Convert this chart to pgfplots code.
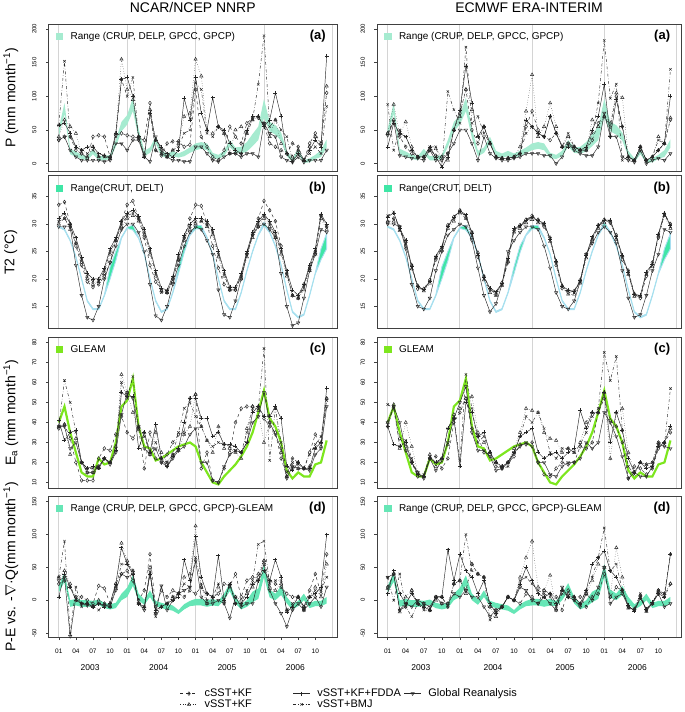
\documentclass[border=0pt]{standalone}
\usepackage{fontspec}
\setmainfont{Liberation Sans}
\usepackage{pgfplots}
\usepackage{pgfplotstable}
\pgfplotsset{compat=1.18}
\usepgfplotslibrary{fillbetween}

\definecolor{bandA}{HTML}{A6EBD0}
\definecolor{bandB}{HTML}{3FE6A6}
\definecolor{lineB}{HTML}{A8DFF0}
\definecolor{bandD}{HTML}{66E6B6}
\definecolor{gleam}{HTML}{7DE61E}
\definecolor{gridg}{HTML}{D4D4D4}

\tikzset{
  plab/.style={anchor=north east,font=\bfseries\fontsize{13}{13}\selectfont,inner sep=0pt,xshift=-11pt,yshift=-6pt},
  yr/.style={font=\fontsize{8.5}{8.5}\selectfont,yshift=-30pt},
}

\pgfplotsset{
  /pgfplots/table/ser/.style={x expr=\coordindex,y index=0,header=false,row sep=\\},
  /pgfplots/table/obs/.style={x expr=\coordindex,y index=0},
  sc/.style={black!85,line width=0.45pt,dashed,mark=diamond,mark size=1.9pt,mark options={solid}},
  sv/.style={black!85,line width=0.45pt,dotted,mark=triangle,mark size=1.9pt,mark options={solid}},
  sf/.style={black!85,line width=0.45pt,solid,mark=+,mark size=2pt},
  sb/.style={black!85,line width=0.45pt,dash dot,mark=x,mark size=1.7pt,mark options={solid}},
  sg/.style={black!85,line width=0.45pt,solid,mark=triangle,mark size=1.9pt,mark options={solid,rotate=180}},
  pan/.style={
    scale only axis, anchor=north west, clip mode=individual,
    xmin=-1.8, xmax=48.8,
    axis line style={black!75,line width=0.6pt},
    tick align=outside, major tick length=2.5pt,
    tick style={black!75,line width=0.5pt},
    ytick pos=left, xtick pos=bottom,
    xtick={0,12,24,36,48}, xticklabels={},
    xmajorgrids, grid style={gridg,line width=0.8pt},
    xtick style={draw=none},
    yticklabel style={rotate=90,anchor=south,font=\fontsize{6}{6}\selectfont},
    yticklabel shift=6pt,
    /pgf/number format/assume math mode=true,
    title style={font=\fontsize{14}{14}\selectfont,at={(0.5,1)},anchor=south,yshift=5pt,inner sep=0pt},
    ylabel style={at={(axis description cs:-0.131,0.5)},anchor=center,font=\fontsize{14}{14}\selectfont},
    legend style={at={(0,1)},anchor=north west,draw=none,fill=none,xshift=6pt,yshift=-5pt,
      font=\fontsize{10}{11}\selectfont,inner sep=1pt},
    legend image code/.code={\fill[#1] (0pt,-3.5pt) rectangle (7.5pt,3.5pt);\path (13pt,0pt);},
  },
  ra/.style={pan,height=148pt,ymin=-11.9,ymax=207.4,ytick={0,50,100,150,200}},
  rb/.style={pan,height=153pt,ymin=11,ymax=38.8,ytick={15,20,25,30,35}},
  rc/.style={pan,height=151pt,ymin=7.2,ymax=82.6,ytick={10,20,...,80}},
  rd/.style={pan,height=142pt,ymin=-57.1,ymax=158.7,ytick={-50,0,50,100,150},
    xtick={0,3,...,45},
    xticklabels={01,04,07,10,01,04,07,10,01,04,07,10,01,04,07,10},
    xmajorgrids=false, xtick style={draw=black!75},
    extra x ticks={0,12,24,36,48}, extra x tick labels={},
    extra x tick style={grid=major,major tick length=0pt},
    xticklabel style={font=\fontsize{6.5}{6.5}\selectfont}, xticklabel shift=5pt},
  cl/.style={width=289pt}, cr/.style={width=305pt},
}

% observations (one value per month, Jan 2003 - Dec 2006)
\pgfplotstableread[header=false,row sep=\\]{40\\74\\14\\10\\7\\5\\14\\5\\5\\7\\25\\48\\58\\78\\38\\11\\16\\30\\11\\9\\11\\9\\11\\16\\20\\22\\20\\8\\7\\11\\25\\16\\15\\18\\26\\35\\68\\48\\43\\34\\11\\2\\14\\1\\2\\7\\10\\24\\}\Alo
\pgfplotstableread[header=false,row sep=\\]{52\\90\\22\\18\\13\\11\\22\\11\\11\\13\\35\\62\\72\\98\\52\\19\\24\\40\\19\\15\\19\\15\\19\\24\\30\\32\\30\\16\\13\\19\\35\\24\\25\\32\\44\\55\\96\\62\\57\\46\\19\\8\\22\\5\\8\\13\\20\\36\\}\Ahi
\pgfplotstableread[header=false,row sep=\\]{29.4\\28.9\\26.9\\23.9\\19.9\\15.9\\14.4\\14.4\\16.9\\20\\23.3\\27.4\\29.2\\28.9\\27.4\\24.4\\19.9\\15.9\\13.9\\14.4\\17.4\\21\\24.8\\27.9\\29.1\\29.1\\27.4\\24.4\\19.9\\15.9\\14.4\\14.4\\17.4\\21.4\\24.9\\27.9\\29.7\\28.4\\25.9\\22.4\\17.9\\13.9\\12.9\\13.4\\16.9\\20.9\\23.5\\25.5\\}\Blo
\pgfplotstableread[header=false,row sep=\\]{29.6\\29.1\\27.1\\24.1\\20.1\\16.1\\14.6\\14.6\\17.1\\22.2\\25\\27.6\\29.4\\29.8\\27.6\\24.6\\20.1\\16.1\\14.1\\14.6\\17.6\\22.2\\26\\28.1\\29.7\\29.7\\27.6\\24.6\\20.1\\16.1\\14.6\\14.6\\17.6\\21.6\\25.1\\28.1\\30.3\\28.6\\26.1\\22.6\\18.1\\14.1\\13.1\\13.6\\17.1\\21.1\\25.5\\28.3\\}\Bhi
\pgfplotstableread[header=false,row sep=\\]{40\\48\\35\\25\\15\\13\\13\\22\\19\\20\\30\\48\\51\\62\\38\\28\\27\\21\\22\\24\\26\\28\\29\\30\\28\\20\\15\\10\\9\\13\\16\\19\\23\\28\\35\\45\\56\\42\\38\\30\\16\\12\\15\\13\\13\\19\\20\\31\\}\Cob
\pgfplotstableread[header=false,row sep=\\]{12\\28\\-10\\-8\\-10\\-10\\-9\\-7\\-12\\-14\\-12\\0\\5\\22\\0\\-7\\5\\-9\\-12\\-14\\-16\\-21\\-14\\-9\\-8\\-8\\-10\\-8\\-9\\0\\14\\-5\\-14\\-10\\-3\\2\\35\\4\\0\\8\\-5\\-14\\-9\\0\\-12\\-9\\-9\\-5\\}\Dlo
\pgfplotstableread[header=false,row sep=\\]{22\\42\\0\\2\\0\\0\\-1\\1\\-4\\-6\\-4\\10\\19\\38\\10\\1\\15\\-1\\-4\\-6\\-8\\-15\\-6\\-1\\2\\2\\0\\2\\-1\\10\\26\\5\\-6\\0\\13\\18\\55\\16\\10\\22\\5\\-6\\-1\\10\\-4\\-1\\-1\\5\\}\Dhi

\begin{document}
\begin{tikzpicture}
\path (0,0) rectangle (685pt,-712pt);

%% ---------------- row (a)
\begin{axis}[ra,cl,at={(48pt,-24pt)},title={NCAR/NCEP NNRP},ylabel={P (mm month\textsuperscript{−1})}]
\addlegendimage{fill=bandA,draw=none}
\addlegendentry{Range (CRUP, DELP, GPCC, GPCP)}
\addplot[name path=lo,draw=none,forget plot] table[obs]{\Alo};
\addplot[name path=hi,draw=none,forget plot] table[obs]{\Ahi};
\addplot[fill=bandA,draw=none,forget plot] fill between[of=lo and hi];
\addplot[sc] table[ser]{35\\40\\40\\20\\15\\8\\40\\42\\40\\10\\42\\45\\42\\40\\38\\35\\90\\20\\12\\30\\33\\33\\25\\28\\110\\40\\25\\10\\5\\20\\55\\40\\30\\60\\68\\68\\58\\30\\25\\20\\15\\30\\25\\5\\30\\45\\30\\105\\};
\addplot[sv] table[ser]{40\\65\\55\\45\\15\\10\\25\\10\\12\\8\\45\\155\\110\\95\\40\\15\\80\\35\\15\\10\\20\\30\\70\\75\\155\\130\\50\\45\\55\\45\\15\\50\\55\\45\\65\\70\\60\\40\\65\\30\\15\\10\\20\\5\\25\\40\\30\\115\\};
\addplot[sf] table[ser]{57\\60\\45\\25\\20\\25\\25\\15\\12\\10\\45\\125\\128\\100\\40\\10\\75\\35\\25\\15\\10\\20\\97\\65\\128\\75\\50\\98\\55\\50\\30\\20\\15\\50\\70\\70\\55\\65\\105\\70\\15\\3\\15\\5\\20\\35\\25\\160\\};
\addplot[sb] table[ser]{57\\152\\40\\25\\20\\15\\20\\10\\10\\8\\40\\125\\100\\128\\40\\12\\75\\20\\15\\10\\20\\25\\45\\50\\120\\110\\45\\40\\55\\45\\15\\15\\15\\45\\65\\118\\190\\55\\65\\50\\40\\5\\20\\5\\15\\25\\15\\85\\};
\addplot[sg] table[ser]{35\\40\\20\\10\\5\\5\\5\\5\\3\\5\\30\\30\\20\\35\\35\\10\\3\\40\\20\\10\\5\\5\\3\\3\\25\\25\\15\\5\\3\\10\\15\\15\\10\\15\\15\\10\\60\\45\\40\\10\\5\\2\\10\\2\\5\\5\\5\\20\\};
\node[plab] at (rel axis cs:1,1) {(a)};
\end{axis}

\begin{axis}[ra,cr,at={(377pt,-24pt)},title={ECMWF ERA-INTERIM}]
\addlegendimage{fill=bandA,draw=none}
\addlegendentry{Range (CRUP, DELP, GPCC, GPCP)}
\addplot[name path=lo,draw=none,forget plot] table[obs]{\Alo};
\addplot[name path=hi,draw=none,forget plot] table[obs]{\Ahi};
\addplot[fill=bandA,draw=none,forget plot] fill between[of=lo and hi];
\addplot[sc] table[ser]{45\\65\\40\\25\\15\\10\\10\\20\\12\\10\\15\\50\\75\\110\\50\\30\\55\\30\\10\\8\\8\\10\\15\\55\\78\\50\\40\\35\\45\\25\\30\\25\\20\\20\\35\\60\\70\\55\\100\\55\\10\\5\\25\\5\\10\\20\\30\\65\\};
\addplot[sv] table[ser]{45\\88\\45\\62\\25\\10\\10\\20\\22\\10\\5\\50\\70\\110\\80\\40\\55\\30\\10\\8\\8\\10\\25\\78\\132\\40\\55\\90\\55\\25\\40\\25\\20\\20\\65\\55\\70\\60\\105\\98\\10\\5\\25\\5\\10\\40\\30\\68\\};
\addplot[sf] table[ser]{25\\60\\45\\40\\20\\10\\10\\25\\10\\-5\\10\\50\\80\\145\\90\\40\\55\\30\\10\\8\\8\\10\\15\\65\\55\\45\\40\\70\\45\\25\\25\\25\\20\\25\\50\\70\\118\\40\\95\\55\\10\\5\\25\\5\\10\\20\\30\\100\\};
\addplot[sb] table[ser]{88\\20\\50\\40\\20\\10\\10\\25\\25\\-5\\107\\80\\60\\173\\60\\70\\45\\30\\10\\8\\8\\10\\15\\45\\55\\45\\40\\70\\45\\25\\45\\25\\20\\20\\45\\90\\183\\97\\118\\5\\10\\5\\25\\5\\10\\35\\30\\140\\};
\addplot[sg] table[ser]{42\\63\\12\\10\\8\\8\\5\\20\\5\\5\\15\\30\\50\\50\\30\\5\\40\\15\\8\\5\\5\\8\\10\\15\\15\\15\\12\\12\\0\\10\\30\\20\\15\\12\\12\\25\\75\\40\\40\\10\\5\\2\\20\\0\\5\\8\\5\\15\\};
\node[plab] at (rel axis cs:1,1) {(a)};
\end{axis}

%% ---------------- row (b)
\begin{axis}[rb,cl,at={(48pt,-176pt)},ylabel={T2 (°C)}]
\addlegendimage{fill=bandB,draw=none}
\addlegendentry{Range(CRUT, DELT)}
\addplot[name path=lo,draw=none,forget plot] table[obs]{\Blo};
\addplot[name path=hi,draw=none,forget plot] table[obs]{\Bhi};
\addplot[fill=bandB,draw=lineB,line width=0.9pt,forget plot] fill between[of=lo and hi];
\addplot[sc] table[ser]{33.5\\34\\30\\26\\22.5\\19.5\\18.5\\19\\20.5\\23\\27\\30.5\\33.5\\34.2\\31\\27.5\\22.5\\19.5\\18\\17.5\\20\\23.5\\27.5\\31\\33.5\\33.3\\30\\26\\22\\19\\18\\18\\20.5\\24.5\\28\\31\\34.2\\32.5\\30.5\\26\\21\\17\\16.5\\19\\22\\25\\31.5\\29.5\\};
\addplot[sv] table[ser]{30\\31\\29\\26.5\\23\\20\\19\\19.5\\21\\24.5\\27\\29.5\\31\\31.5\\30.5\\28\\24.5\\20.5\\17.8\\17.5\\19.5\\23.5\\27\\29\\30\\30.5\\29.5\\28\\24\\20.5\\18\\18\\20\\24\\27.5\\29.5\\31\\29.5\\27.5\\24.5\\20.5\\17\\16.5\\18\\21.5\\24.5\\31\\29\\};
\addplot[sf] table[ser]{31\\32\\30\\27.5\\24\\21\\20\\20\\22\\25.5\\27.5\\30.5\\32\\32.5\\31.5\\29\\25.5\\21.5\\18.3\\18\\20.5\\24.5\\28\\30\\31\\31\\30.5\\29\\25\\21.5\\18.5\\18.5\\21\\25\\28.5\\30.5\\31.8\\30.5\\28.5\\25.5\\21.5\\18\\17\\19\\22.5\\25.5\\31.8\\30\\};
\addplot[sb] table[ser]{30.5\\31\\29.5\\26.5\\23.5\\20.5\\19.5\\19.5\\21.5\\25\\27\\30\\31.5\\32\\31\\28.5\\25\\21\\17.5\\17.5\\20\\24\\27.5\\29.5\\30.5\\30.5\\30\\28.5\\24.5\\21\\18\\18.2\\20.5\\24.5\\28\\30\\31.5\\30\\28\\25\\21\\17\\16.5\\18.5\\22\\25\\31.5\\29.5\\};
\addplot[sg] table[ser]{29.5\\29.5\\29.5\\22.5\\17\\13\\12.5\\15\\20\\23\\26\\29\\30\\30\\28.5\\25\\19\\13.3\\12.5\\15\\19\\22.5\\26\\28.5\\29.5\\29\\27\\24.5\\18\\13.5\\13\\16\\20\\24.5\\28\\29.5\\30\\29\\27.5\\21\\15\\11.5\\12\\16.5\\21.5\\24.5\\29\\28.5\\};
\node[plab] at (rel axis cs:1,1) {(b)};
\end{axis}

\begin{axis}[rb,cr,at={(377pt,-176pt)}]
\addlegendimage{fill=bandB,draw=none}
\addlegendentry{Range(CRUT, DELT)}
\addplot[name path=lo,draw=none,forget plot] table[obs]{\Blo};
\addplot[name path=hi,draw=none,forget plot] table[obs]{\Bhi};
\addplot[fill=bandB,draw=lineB,line width=0.9pt,forget plot] fill between[of=lo and hi];
\addplot[sc] table[ser]{30.3\\31\\29.5\\26\\22.5\\18.2\\18.2\\19.8\\23.5\\25.5\\29.8\\31.3\\32.5\\31.2\\28.5\\24\\20.5\\18.2\\17.2\\19.3\\23\\28.8\\29.8\\30.8\\31.5\\30.8\\29.5\\27.5\\22.5\\18.3\\17.5\\17.8\\19.8\\24.5\\27\\29.8\\30.8\\30.2\\28\\23.5\\21.5\\17.3\\16.5\\20.5\\23\\27.5\\31.8\\30\\};
\addplot[sv] table[ser]{30.5\\30.5\\28.8\\26.8\\21.8\\18.8\\17.8\\19.2\\23.8\\25.2\\29.2\\30.5\\32\\31\\27.5\\24.8\\19.8\\17.5\\17\\18.8\\23.2\\28.5\\29.2\\30.2\\30.8\\30.2\\29.8\\26.8\\23.2\\18.8\\17.2\\17.2\\19.2\\23.8\\27.2\\29.2\\30.2\\30.5\\27.2\\24.2\\20.8\\16.8\\16.8\\20.8\\22.2\\27.8\\31.5\\29.2\\};
\addplot[sf] table[ser]{31.3\\32\\29.2\\27\\22.3\\18.6\\18.1\\19.6\\24.2\\26\\29.6\\31.2\\32.4\\31.7\\28.3\\24.3\\20.3\\18.3\\17.7\\19.2\\23.8\\29.2\\29.7\\30.7\\31.3\\30.6\\30.2\\27.3\\23.2\\18.7\\18\\17.7\\19.7\\24.3\\27.7\\29.7\\30.7\\30.7\\27.7\\24.3\\21.2\\17.2\\17\\21.3\\22.7\\28.2\\32\\29.7\\};
\addplot[sb] table[ser]{31.5\\32.2\\28.8\\26.5\\22\\18.5\\18\\19.5\\24\\25.7\\29.5\\31\\32.3\\31.5\\28\\24.5\\20\\18\\17.5\\19\\23.5\\29\\29.5\\30.5\\31.2\\30.5\\30\\27\\23\\18.5\\17.8\\17.5\\19.5\\24\\27.5\\29.5\\30.5\\30.5\\27.5\\24\\21\\17\\16.8\\21\\22.5\\28\\31.8\\29.5\\};
\addplot[sg] table[ser]{30\\30\\29.5\\25.5\\19\\15\\14.5\\16.5\\21.5\\25\\28\\29\\30\\29.5\\27\\22\\17\\14\\15.5\\19\\25\\27\\28.5\\29.5\\29.5\\29\\26\\22\\17.5\\15\\14.5\\16\\19.5\\24.5\\26.5\\28.5\\29.5\\28.5\\26.5\\21.5\\16.5\\13\\13.5\\17\\21.5\\24.5\\29\\28.5\\};
\node[plab] at (rel axis cs:1,1) {(b)};
\end{axis}

%% ---------------- row (c)
\begin{axis}[rc,cl,at={(48pt,-338pt)},ylabel={E\textsubscript{a} (mm month\textsuperscript{−1})}]
\addlegendimage{fill=gleam,draw=none}
\addlegendentry{GLEAM}
\addplot[gleam,line width=2.2pt,forget plot] table[obs]{\Cob};
\addplot[sc] table[ser]{37\\39\\32\\20\\11\\11\\11\\22\\27\\26\\34\\43\\35\\32\\37\\17\\35\\22\\20\\24\\30\\34\\35\\52\\54\\17\\25\\11\\10\\17\\25\\40\\47\\48\\48\\48\\42\\38\\35\\22\\13\\22\\20\\17\\25\\34\\28\\52\\};
\addplot[sv] table[ser]{38\\39\\24\\32\\20\\15\\15\\18\\22\\20\\28\\64\\55\\45\\38\\35\\24\\35\\25\\20\\24\\26\\34\\38\\54\\38\\31\\25\\38\\27\\27\\25\\22\\37\\48\\46\\30\\40\\47\\25\\13\\18\\17\\17\\18\\27\\30\\52\\};
\addplot[sf] table[ser]{41\\31\\35\\36\\20\\17\\18\\17\\22\\20\\26\\55\\53\\53\\27\\35\\25\\39\\22\\18\\23\\27\\40\\52\\52\\42\\42\\33\\35\\29\\29\\28\\25\\30\\45\\48\\43\\43\\48\\42\\18\\16\\20\\17\\17\\27\\30\\57\\};
\addplot[sb] table[ser]{38\\61\\50\\35\\20\\17\\17\\17\\22\\20\\27\\60\\52\\63\\37\\33\\25\\30\\22\\20\\24\\35\\47\\50\\43\\38\\31\\28\\30\\29\\28\\26\\25\\35\\47\\47\\77\\21\\47\\30\\15\\20\\19\\17\\24\\29\\33\\51\\};
\addplot[sg] table[ser]{38\\38\\27\\30\\20\\15\\15\\18\\22\\19\\25\\44\\55\\52\\38\\27\\24\\27\\20\\18\\22\\26\\28\\34\\37\\20\\20\\11\\10\\18\\24\\26\\25\\30\\40\\43\\55\\40\\34\\27\\12\\18\\17\\17\\16\\24\\27\\48\\};
\node[plab] at (rel axis cs:1,1) {(c)};
\end{axis}

\begin{axis}[rc,cr,at={(377pt,-338pt)}]
\addlegendimage{fill=gleam,draw=none}
\addlegendentry{GLEAM}
\addplot[gleam,line width=2.2pt,forget plot] table[obs]{\Cob};
\addplot[sc] table[ser]{38\\48\\32\\28\\20\\13\\13\\22\\23\\17\\22\\40\\45\\52\\37\\33\\25\\24\\18\\17\\20\\23\\29\\29\\30\\20\\14\\13\\17\\20\\19\\20\\28\\27\\30\\45\\52\\41\\38\\30\\12\\18\\17\\14\\17\\27\\30\\35\\};
\addplot[sv] table[ser]{40\\49\\27\\40\\28\\15\\13\\24\\18\\22\\29\\44\\47\\52\\53\\35\\30\\25\\20\\18\\20\\27\\35\\47\\46\\45\\35\\32\\31\\25\\27\\25\\30\\40\\45\\45\\55\\22\\45\\47\\25\\15\\20\\19\\20\\30\\30\\37\\};
\addplot[sf] table[ser]{38\\29\\28\\30\\20\\14\\13\\22\\20\\22\\37\\42\\18\\50\\45\\33\\35\\25\\20\\18\\20\\25\\33\\35\\37\\25\\22\\24\\25\\22\\25\\27\\46\\37\\45\\45\\55\\30\\45\\36\\22\\15\\20\\17\\18\\28\\30\\38\\};
\addplot[sb] table[ser]{49\\47\\28\\31\\22\\14\\14\\23\\20\\22\\37\\43\\21\\64\\47\\30\\33\\25\\20\\17\\18\\25\\33\\43\\40\\45\\37\\25\\22\\27\\27\\25\\29\\35\\43\\47\\75\\61\\73\\36\\18\\14\\20\\19\\20\\30\\29\\57\\};
\addplot[sg] table[ser]{40\\48\\40\\26\\20\\15\\12\\22\\16\\21\\30\\42\\50\\58\\35\\26\\26\\23\\16\\17\\20\\25\\28\\30\\28\\20\\20\\14\\13\\18\\20\\20\\22\\30\\27\\30\\45\\40\\33\\23\\12\\15\\13\\13\\18\\29\\28\\27\\};
\node[plab] at (rel axis cs:1,1) {(c)};
\end{axis}

%% ---------------- row (d)
\begin{axis}[rd,cl,at={(48pt,-497pt)},ylabel={P-E vs. -$\nabla$·Q(mm month\textsuperscript{−1})}]
\addlegendimage{fill=bandD,draw=none}
\addlegendentry{Range (CRUP, DELP, GPCC, GPCP)-GLEAM}
\addplot[name path=lo,draw=none,forget plot] table[obs]{\Dlo};
\addplot[name path=hi,draw=none,forget plot] table[obs]{\Dhi};
\addplot[fill=bandD,draw=none,forget plot] fill between[of=lo and hi];
\addplot[sc] table[ser]{25\\30\\20\\5\\5\\0\\-5\\22\\18\\-5\\25\\40\\45\\30\\0\\15\\70\\-10\\15\\5\\15\\10\\5\\15\\10\\20\\10\\5\\10\\25\\22\\40\\5\\30\\35\\35\\60\\30\\25\\20\\10\\5\\5\\-10\\15\\40\\10\\70\\};
\addplot[sv] table[ser]{35\\45\\25\\0\\-5\\-5\\-10\\0\\-5\\-10\\20\\87\\60\\45\\-5\\-10\\50\\-20\\-10\\-5\\5\\10\\35\\40\\113\\20\\-5\\0\\20\\0\\20\\5\\0\\10\\20\\40\\60\\20\\15\\25\\-15\\-10\\5\\-15\\5\\20\\5\\55\\};
\addplot[sf] table[ser]{5\\40\\20\\0\\-5\\-5\\-10\\-5\\-10\\-5\\25\\80\\55\\40\\-5\\-10\\40\\-15\\-10\\-5\\0\\5\\62\\30\\97\\35\\10\\5\\68\\0\\25\\-5\\-5\\5\\25\\30\\45\\30\\62\\35\\-18\\-10\\5\\-10\\5\\10\\20\\100\\};
\addplot[sb] table[ser]{35\\90\\-50\\20\\-10\\-5\\-8\\-15\\-5\\-10\\20\\55\\55\\45\\-5\\-10\\40\\-25\\-10\\-5\\5\\10\\25\\20\\65\\25\\0\\5\\25\\-5\\25\\-5\\-5\\15\\30\\85\\90\\25\\30\\30\\-15\\-5\\5\\-15\\5\\15\\15\\35\\};
\addplot[sg] table[ser]{30\\35\\-55\\5\\-5\\-8\\-10\\-5\\-8\\-10\\15\\40\\35\\40\\-5\\-15\\45\\-20\\22\\-15\\0\\10\\15\\20\\60\\5\\-5\\-5\\0\\-5\\-27\\5\\-10\\-5\\-5\\30\\55\\15\\-5\\-20\\-40\\-15\\-5\\-15\\-5\\5\\-10\\20\\};
\node[plab] at (rel axis cs:1,1) {(d)};
\node[yr] at (axis cs:5.5,-57.1) {2003};
\node[yr] at (axis cs:17.5,-57.1) {2004};
\node[yr] at (axis cs:29.5,-57.1) {2005};
\node[yr] at (axis cs:41.5,-57.1) {2006};
\end{axis}

\begin{axis}[rd,cr,at={(377pt,-497pt)}]
\addlegendimage{fill=bandD,draw=none}
\addlegendentry{Range (CRUP, DELP, GPCC, GPCP)-GLEAM}
\addplot[name path=lo,draw=none,forget plot] table[obs]{\Dlo};
\addplot[name path=hi,draw=none,forget plot] table[obs]{\Dhi};
\addplot[fill=bandD,draw=none,forget plot] fill between[of=lo and hi];
\addplot[sc] table[ser]{20\\40\\-15\\-10\\15\\-5\\-10\\-15\\5\\5\\-10\\25\\30\\15\\55\\40\\35\\-10\\-15\\-10\\5\\0\\-5\\10\\5\\-5\\15\\10\\5\\-15\\15\\5\\5\\-10\\5\\10\\40\\5\\20\\15\\-10\\-15\\5\\-15\\-5\\15\\5\\25\\};
\addplot[sv] table[ser]{18\\40\\-18\\5\\15\\-5\\-5\\-15\\0\\-5\\-5\\25\\30\\10\\55\\40\\35\\-10\\-25\\-10\\5\\0\\35\\65\\90\\20\\15\\38\\-15\\15\\10\\5\\-5\\10\\30\\55\\50\\5\\80\\35\\-12\\-13\\8\\-17\\-5\\15\\10\\25\\};
\addplot[sf] table[ser]{10\\45\\10\\-5\\10\\-5\\-10\\-15\\5\\5\\77\\30\\70\\45\\35\\10\\30\\-5\\-20\\-10\\5\\0\\25\\50\\30\\10\\5\\10\\-5\\15\\5\\5\\-5\\15\\55\\65\\75\\45\\35\\15\\-8\\-17\\3\\-13\\-3\\10\\5\\70\\};
\addplot[sb] table[ser]{35\\0\\40\\-10\\-25\\-5\\-15\\-15\\5\\5\\-10\\25\\30\\100\\45\\40\\35\\-30\\-20\\-10\\5\\0\\30\\35\\25\\15\\10\\5\\-10\\10\\5\\0\\-5\\15\\35\\65\\110\\45\\55\\15\\-10\\-15\\10\\-15\\-5\\15\\10\\70\\};
\addplot[sg] table[ser]{35\\40\\-15\\-5\\-10\\0\\-5\\-10\\5\\-5\\-5\\10\\5\\15\\5\\5\\-10\\-25\\-15\\-10\\5\\0\\20\\15\\0\\-5\\5\\-5\\-15\\20\\5\\0\\-10\\10\\0\\20\\50\\-5\\5\\10\\-10\\-15\\5\\-15\\-5\\10\\-10\\-5\\};
\node[plab] at (rel axis cs:1,1) {(d)};
\node[yr] at (axis cs:5.5,-57.1) {2003};
\node[yr] at (axis cs:17.5,-57.1) {2004};
\node[yr] at (axis cs:29.5,-57.1) {2005};
\node[yr] at (axis cs:41.5,-57.1) {2006};
\end{axis}

%% ---------------- shared legend
\begin{axis}[at={(0pt,-712pt)},anchor=south west,scale only axis,width=685pt,height=712pt,
  hide axis,xmin=0,xmax=1,ymin=0,ymax=1,legend columns=3,legend cell align=left,
  legend style={at={(0.258,0.035)},anchor=north west,draw=none,fill=none,
    font=\fontsize{11}{11}\selectfont,nodes={inner sep=1pt},row sep=-0.5pt,
    /tikz/every odd column/.style={column sep=6pt},
    /tikz/column 2/.style={column sep=40pt},/tikz/column 4/.style={column sep=2pt}}]
\addlegendimage{sc}\addlegendentry{cSST+KF}
\addlegendimage{sf}\addlegendentry{vSST+KF+FDDA}
\addlegendimage{sg}\addlegendentry{Global Reanalysis}
\addlegendimage{sv}\addlegendentry{vSST+KF}
\addlegendimage{sb}\addlegendentry{vSST+BMJ}
\end{axis}
\end{tikzpicture}
\end{document}
